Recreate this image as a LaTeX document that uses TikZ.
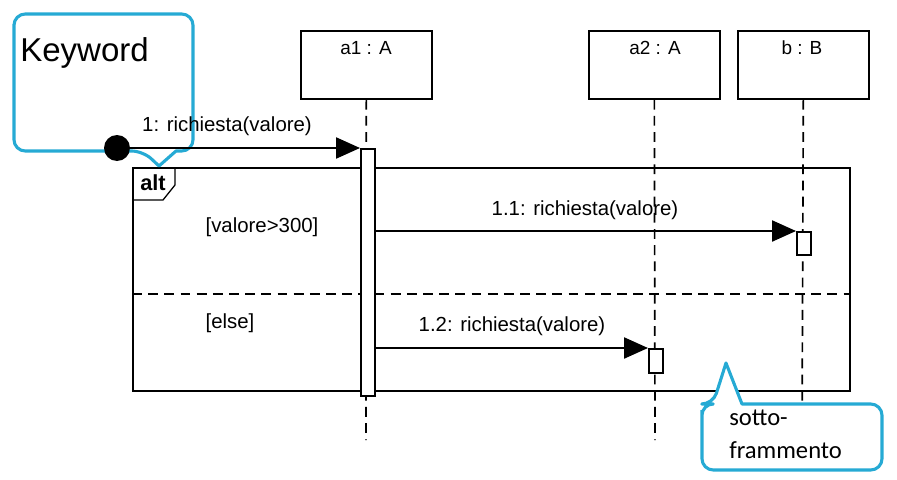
\documentclass[tikz,border=0pt]{standalone}
\usepackage{fontspec}
\setmainfont{Liberation Sans}
\newfontfamily\calfont{Carlito}
\usetikzlibrary{arrows.meta}
\definecolor{callout}{RGB}{38,170,212}
\begin{document}
\begin{tikzpicture}[x=0.025cm,y=-0.025cm,
  obj/.style={draw,line width=1.2pt,minimum width=131*0.025cm,minimum height=68*0.025cm,anchor=north west,inner sep=0pt},
  objtxt/.style={font=\fontsize{13.5}{16}\selectfont},
  life/.style={line width=1.2pt,dash pattern=on 7pt off 4.5pt},
  act/.style={draw,fill=white,line width=1.2pt,anchor=north west,inner sep=0pt,minimum width=14*0.025cm},
  msg/.style={line width=1.2pt,-{Triangle[length=17pt,width=15pt]}},
  lbl/.style={font=\fontsize{14.5}{17}\selectfont,inner sep=0pt},
  call/.style={draw=callout,line width=2.2pt,line join=round}]
\useasboundingbox (0,0) rectangle (897,480);
% lifeline heads
\node[obj] (a1) at (300,30) {};
\node[objtxt,anchor=north] (a1t) at (366,36) {a1 : A};
\node[obj] (a2) at (588,30) {};
\node[objtxt,anchor=north] (a2t) at (655,36) {a2 : A};
\node[obj] (b) at (737,30) {};
\node[objtxt,anchor=north] (bt) at (802,36) {b : B};
% lifeline ends
\coordinate (a1end) at (366,440);
\coordinate (a2end) at (655,440);
\coordinate (bend) at (802,440);
\draw[life] (a1.south) -- (a1end);
\draw[life] (a2.south) -- (a2end);
\draw[life] (b.south) -- (bend);
% alt frame
\node[draw,line width=1.2pt,anchor=north west,minimum width=717*0.025cm,minimum height=223*0.025cm,inner sep=0pt] (alt) at (132,167) {};
\coordinate (tabA) at (175,167);
\coordinate (tabB) at (175,185);
\coordinate (tabC) at (163,200);
\coordinate (tabD) at (132,200);
\draw[line width=0.9pt] (tabA) -- (tabB) -- (tabC) -- (tabD);
\node[font=\bfseries\fontsize{15.5}{18}\selectfont,inner sep=0pt] (altt) at (153,183) {alt};
\coordinate (sepL) at (132,294);
\coordinate (sepR) at (849,294);
\draw[line width=1.2pt,dash pattern=on 7pt off 4.5pt] (sepL) -- (sepR);
\node[lbl] (g1) at (262,227) {[valore>300]};
\node[lbl] (g2) at (230,323) {[else]};
% activations
\node[act,minimum height=247*0.025cm] (act1) at (360,148) {};
\node[act,minimum height=23*0.025cm] (actb) at (796,231) {};
\node[act,minimum height=24*0.025cm] (act2) at (648,348) {};
% callout Keyword
\draw[call,fill=white] (14,24) [rounded corners=8pt] -- (14,151) -- (143,151) [sharp corners] -- (159,166) -- (176,151) [rounded corners=8pt] -- (193,151) -- (193,14) -- (14,14) -- (14,30);
\node[font=\fontsize{23.5}{26}\selectfont,anchor=base west,inner sep=0pt] (kw) at (20,61) {Keyword};
% found message
\node[circle,fill=black,minimum size=26*0.025cm,inner sep=0pt] (dot) at (117,148) {};
\draw[msg] (dot.center) -- (act1.north west);
\node[lbl] (m1) at (227,126) {1: richiesta(valore)};
\draw[msg] (act1.east |- actb.north) -- (actb.north west);
\node[lbl] (m11) at (585,210) {1.1: richiesta(valore)};
\draw[msg] (act1.east |- act2.north) -- (act2.north west);
\node[lbl] (m12) at (512,326) {1.2: richiesta(valore)};
% callout sottoframmento
\draw[call,fill=white] (702,420) [rounded corners=8pt] -- (702,404) -- (713,404) [sharp corners] -- (726,363) -- (742,404) [rounded corners=8pt] -- (882,404) -- (882,470) -- (702,470) -- (702,410);
\node[font=\calfont\fontsize{17.5}{23}\selectfont,align=left,anchor=north west,inner sep=0pt] (sf) at (729,410) {sotto-\\frammento};
\end{tikzpicture}
\end{document}
